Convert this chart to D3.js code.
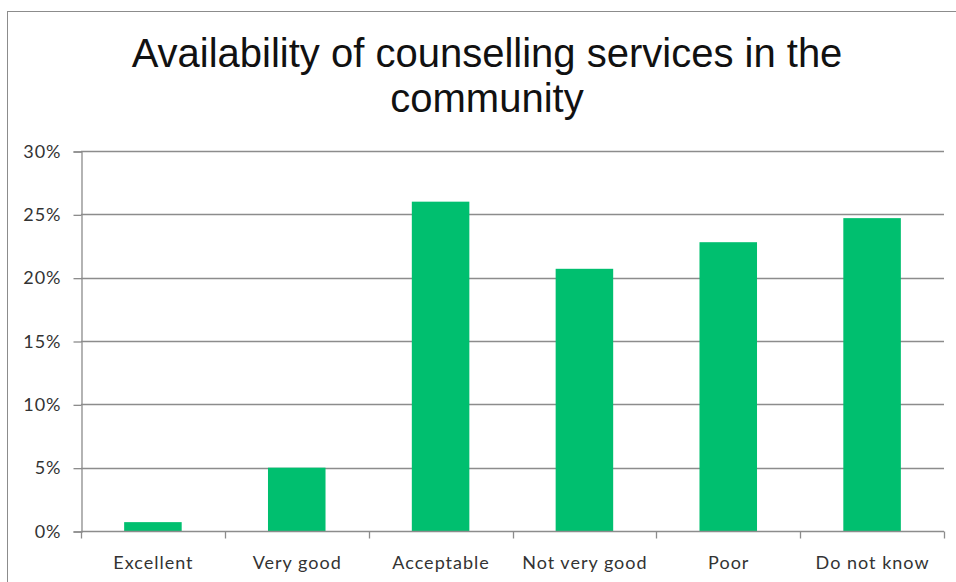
<!DOCTYPE html>
<html>
<head>
<meta charset="utf-8">
<script src="https://cdn.jsdelivr.net/npm/d3@7"></script>
<style>
  html, body { margin: 0; padding: 0; background: #fff; }
  svg { display: block; }
</style>
</head>
<body>
<svg id="chart" width="956" height="582"></svg>
<script>
const titleLines = ["Availability of counselling services in the", "community"];
const categories = ["Excellent", "Very good", "Acceptable", "Not very good", "Poor", "Do not know"];
const values = [0.7, 5.0, 26.0, 20.7, 22.8, 24.7];
const yTicks = [0, 5, 10, 15, 20, 25, 30];

const svg = d3.select("#chart");
const W = 956, H = 582;
const m = { left: 81, right: 12, top: 151, bottom: 51 };

svg.append("rect")
  .attr("x", 7.5).attr("y", 11.5)
  .attr("width", 1000).attr("height", 1000)
  .attr("fill", "#fff").attr("stroke", "#8c8c8c").attr("stroke-width", 1);

const x = d3.scaleBand()
  .domain(categories)
  .range([m.left, W - m.right])
  .paddingInner(0.6).paddingOuter(0.3);

const y = d3.scaleLinear().domain([0, 30]).range([H - m.bottom, m.top]);

// gridlines
svg.append("g")
  .selectAll("line")
  .data(yTicks.filter(d => d > 0))
  .join("line")
  .attr("x1", m.left).attr("x2", W - m.right)
  .attr("y1", d => Math.round(y(d)) + 0.5).attr("y2", d => Math.round(y(d)) + 0.5)
  .attr("stroke", "#8c8c8c").attr("stroke-width", 1.3);

// bars
svg.append("g")
  .selectAll("rect")
  .data(values)
  .join("rect")
  .attr("x", (d, i) => x(categories[i]))
  .attr("width", x.bandwidth())
  .attr("y", d => y(d))
  .attr("height", d => y(0) - y(d))
  .attr("fill", "#00BF6F");

// y axis
const yAxis = d3.axisLeft(y).tickValues(yTicks).tickFormat(d => d + "%").tickSize(8).tickPadding(12);
const gy = svg.append("g").attr("transform", `translate(${m.left + 0.5},0.5)`).call(yAxis);
gy.selectAll("path, line").attr("stroke", "#8c8c8c").attr("stroke-width", 1.3);
gy.selectAll("text")
  .attr("font-family", "Lato, 'Open Sans', sans-serif")
  .attr("font-size", 18).attr("letter-spacing", 1).attr("fill", "#333");

// x axis with boundary ticks
const gx = svg.append("g").attr("transform", `translate(0,${Math.round(y(0)) + 0.5})`);
gx.append("line")
  .attr("x1", m.left).attr("x2", W - m.right)
  .attr("stroke", "#8c8c8c").attr("stroke-width", 1.3);
const bounds = categories.map(c => x(c) - (x.step() - x.bandwidth()) / 2);
bounds.push(W - m.right);
gx.selectAll("line.tick")
  .data(bounds)
  .join("line")
  .attr("class", "tick")
  .attr("x1", d => Math.round(d) + 0.5).attr("x2", d => Math.round(d) + 0.5)
  .attr("y1", 0).attr("y2", 7)
  .attr("stroke", "#8c8c8c").attr("stroke-width", 1.3);
gx.selectAll("text")
  .data(categories)
  .join("text")
  .attr("x", d => x(d) + x.bandwidth() / 2 + 0.5)
  .attr("y", 37)
  .attr("text-anchor", "middle")
  .attr("font-family", "Lato, 'Open Sans', sans-serif")
  .attr("font-size", 18).attr("letter-spacing", 1).attr("fill", "#333")
  .text(d => d);

// title
svg.append("g")
  .selectAll("text")
  .data(titleLines)
  .join("text")
  .attr("x", 487)
  .attr("y", (d, i) => 67 + i * 45)
  .attr("text-anchor", "middle")
  .attr("font-family", "'Liberation Sans', Arial, sans-serif")
  .attr("font-size", 40).attr("fill", "#111")
  .text(d => d);
</script>
</body>
</html>
